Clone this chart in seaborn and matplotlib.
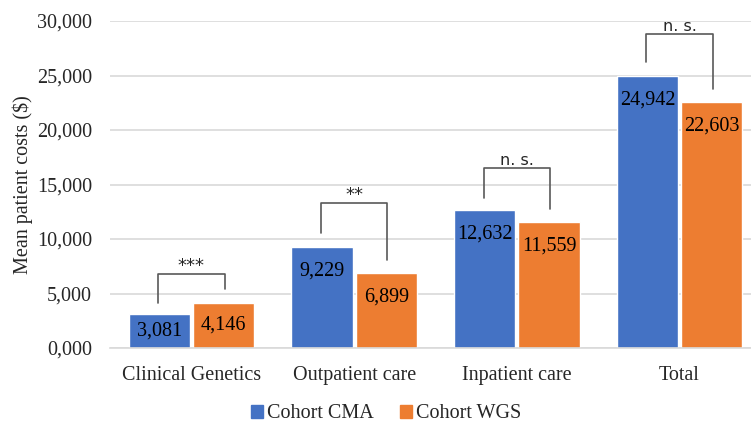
import numpy as np
import pandas as pd
import matplotlib.pyplot as plt
import seaborn as sns

# values
categories = ['Clinical Genetics', 'Outpatient care', 'Inpatient care', 'Total']
cohorts = ['Cohort CMA', 'Cohort WGS']
cma = [3081, 9229, 12632, 24942]
wgs = [4146, 6899, 11559, 22603]
value_labels_cma = ['3,081', '9,229', '12,632', '24,942']
value_labels_wgs = ['4,146', '6,899', '11,559', '22,603']

# significance brackets: left foot, top, right foot (in $)
sig_text = ['***', '**', 'n. s.', 'n. s.']
sig_size = [13, 13, 11.5, 11.5]
sig_left = [4130, 10550, 13760, 26240]
sig_top = [6790, 13300, 16510, 28810]
sig_right = [5410, 8070, 12750, 23760]

yticks = [0, 5000, 10000, 15000, 20000, 25000, 30000]
ytick_labels = ['0,000', '5,000', '10,000', '15,000', '20,000', '25,000', '30,000']

df = pd.DataFrame({
    'category': categories * 2,
    'cohort': [cohorts[0]] * 4 + [cohorts[1]] * 4,
    'cost': cma + wgs,
})

sns.set_style('white')
plt.rcParams['font.family'] = ['Liberation Serif', 'DejaVu Serif']

palette = {'Cohort CMA': '#4472C4', 'Cohort WGS': '#ED7D31'}

fig = plt.figure(figsize=(7.51, 4.24), dpi=100)
ax = fig.add_axes([0.1465, 0.1792, 0.8668, 0.7712])

sns.barplot(data=df, x='category', y='cost', hue='cohort', hue_order=cohorts,
            order=categories, palette=palette, width=0.79, gap=0.05,
            saturation=1, legend=False, ax=ax, zorder=2)

ax.set_ylim(0, 30000)
ax.set_xlim(-0.5, 3.5)

# value labels inside the bar top (centred if the bar is short)
labels = value_labels_cma + value_labels_wgs
top_gap = 2200  # a bit over 20 px below bar top, in $
for patch, lab in zip(ax.patches, labels):
    x = patch.get_x() + patch.get_width() / 2
    h = patch.get_height()
    ax.text(x, max(h - top_gap, h / 2), lab, ha='center', va='center',
            fontsize=14.5, color='black')

# brackets
off = 0.205
for i in range(len(categories)):
    xl, xr = i - off, i + off
    ax.plot([xl, xl, xr, xr], [sig_left[i], sig_top[i], sig_top[i], sig_right[i]],
            color='#595959', lw=1.2, zorder=3)
    ax.annotate(sig_text[i], (i, sig_top[i]), xytext=(0, 5.5),
                textcoords='offset points', ha='center', va='center',
                fontsize=sig_size[i], family=['DejaVu Sans'])

ax.set_yticks(yticks)
ax.set_yticklabels(ytick_labels)
ax.yaxis.grid(True, color='#d9d9d9', lw=1.2, zorder=0)
ax.set_axisbelow(True)
for s in ['top', 'right', 'left']:
    ax.spines[s].set_visible(False)
ax.spines['bottom'].set_color('#d9d9d9')
ax.spines['bottom'].set_linewidth(1.2)
ax.tick_params(axis='y', length=0, labelsize=14.5, pad=13)
ax.tick_params(axis='x', length=0, labelsize=14.5, pad=13)
ax.set_xlabel('')
ax.set_ylabel('Mean patient costs ($)', fontsize=14.5, labelpad=3)

handles = [plt.Rectangle((0, 0), 1, 1, color=palette[c]) for c in cohorts]
fig.legend(handles, cohorts, loc='center', bbox_to_anchor=(386 / 751, 0.024), ncol=2,
           frameon=False, fontsize=14.5, handlelength=0.6, handleheight=0.6,
           handletextpad=0.2, columnspacing=1.3, borderpad=0)

plt.savefig('out.png', dpi=100)
